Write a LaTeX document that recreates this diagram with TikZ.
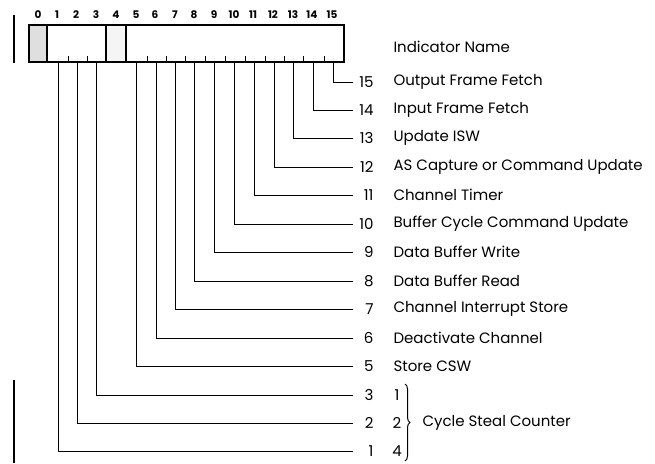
\documentclass[tikz,border=0pt]{standalone}
\usepackage{fontspec}
\setmainfont{Poppins}
\usetikzlibrary{decorations.pathreplacing}

\tikzset{
  lead/.style={line width=1pt},
  num/.style={anchor=east,inner sep=0pt,text width=20pt,align=right,font=\fontsize{15}{18}\selectfont},
  lbl/.style={anchor=west,inner sep=0pt,font=\fontsize{15}{18}\selectfont},
  bitno/.style={inner sep=0pt,font=\fontsize{10.5}{12}\selectfont\bfseries},
}

\begin{document}
\begin{tikzpicture}[x=1pt,y=-1pt,line width=1pt]
\path[use as bounding box] (0,0) rectangle (655,463);
% register
\fill[gray!25] (29,25) rectangle (47,62);
\fill[gray!8] (106,25) rectangle (126,62);
\draw[line width=1.4pt] (29,25) rectangle (344,62);
\draw[line width=1.4pt] (47,25) -- (47,62);
\draw[line width=1.4pt] (106,25) -- (106,62);
\draw[line width=1.4pt] (126,25) -- (126,62);
% ticks
\draw (68,62) -- (68,56);
\draw (87,62) -- (87,56);
\draw (147,62) -- (147,56);
\draw (166,62) -- (166,56);
\draw (185,62) -- (185,56);
\draw (205,62) -- (205,56);
\draw (225,62) -- (225,56);
\draw (245,62) -- (245,56);
\draw (265,62) -- (265,56);
\draw (284,62) -- (284,56);
\draw (303,62) -- (303,56);
\draw (324,62) -- (324,56);
% bit numbers
\node[bitno] (k0) at (38,15) {0};
\node[bitno] (k1) at (57,15) {1};
\node[bitno] (k2) at (76,15) {2};
\node[bitno] (k3) at (96,15) {3};
\node[bitno] (k4) at (116,15) {4};
\node[bitno] (k5) at (136,15) {5};
\node[bitno] (k6) at (155,15) {6};
\node[bitno] (k7) at (175,15) {7};
\node[bitno] (k8) at (194,15) {8};
\node[bitno] (k9) at (214,15) {9};
\node[bitno] (k10) at (234,15) {10};
\node[bitno] (k11) at (253,15) {11};
\node[bitno] (k12) at (273,15) {12};
\node[bitno] (k13) at (293,15) {13};
\node[bitno] (k14) at (312,15) {14};
\node[bitno] (k15) at (332,15) {15};
% change bars
\draw[line width=2pt] (14,15) -- (14,63);
\draw[line width=2pt] (14,380) -- (14,463);
% lead origins
\coordinate (b1) at (58,62);
\coordinate (b2) at (77,62);
\coordinate (b3) at (96,62);
\coordinate (b5) at (136,62);
\coordinate (b6) at (156,62);
\coordinate (b7) at (175,62);
\coordinate (b8) at (194,62);
\coordinate (b9) at (214,62);
\coordinate (b10) at (234,62);
\coordinate (b11) at (254,62);
\coordinate (b12) at (274,62);
\coordinate (b13) at (293,62);
\coordinate (b14) at (313,62);
\coordinate (b15) at (333,62);
% labels
\node[lbl] (head) at (393,47) {Indicator Name};
\node[num] (n15) at (374,82) {15};
\node[lbl] (t15) at (393,82) {Output Frame Fetch};
\node[num] (n14) at (374,110) {14};
\node[lbl] (t14) at (393,110) {Input Frame Fetch};
\node[num] (n13) at (374,138) {13};
\node[lbl] (t13) at (393,138) {Update ISW};
\node[num] (n12) at (374,167) {12};
\node[lbl] (t12) at (393,167) {AS Capture or Command Update};
\node[num] (n11) at (374,195) {11};
\node[lbl] (t11) at (393,195) {Channel Timer};
\node[num] (n10) at (374,224) {10};
\node[lbl] (t10) at (393,224) {Buffer Cycle Command Update};
\node[num] (n9) at (374,252) {9};
\node[lbl] (t9) at (393,252) {Data Buffer Write};
\node[num] (n8) at (374,281) {8};
\node[lbl] (t8) at (393,281) {Data Buffer Read};
\node[num] (n7) at (374,309) {7};
\node[lbl] (t7) at (393,309) {Channel Interrupt Store};
\node[num] (n6) at (374,338) {6};
\node[lbl] (t6) at (393,338) {Deactivate Channel};
\node[num] (n5) at (374,366) {5};
\node[lbl] (t5) at (393,366) {Store CSW};
\node[num] (n3) at (374,395) {3};
\node[num] (n2) at (374,423) {2};
\node[num] (n1) at (374,451) {1};
\node[lbl,anchor=center] (w1) at (397,395) {1};
\node[lbl,anchor=center] (w2) at (397,423) {2};
\node[lbl,anchor=center] (w4) at (397,451) {4};
\draw[decorate,decoration={brace,amplitude=5pt}] (405,384) -- (405,461);
\node[lbl] (csc) at (422,423) {Cycle Steal Counter};
% leads
\draw[lead] (b15) |- (n15.west);
\draw[lead] (b14) |- (n14.west);
\draw[lead] (b13) |- (n13.west);
\draw[lead] (b12) |- (n12.west);
\draw[lead] (b11) |- (n11.west);
\draw[lead] (b10) |- (n10.west);
\draw[lead] (b9) |- (n9.west);
\draw[lead] (b8) |- (n8.west);
\draw[lead] (b7) |- (n7.west);
\draw[lead] (b6) |- (n6.west);
\draw[lead] (b5) |- (n5.west);
\draw[lead] (b3) |- (n3.west);
\draw[lead] (b2) |- (n2.west);
\draw[lead] (b1) |- (n1.west);
\end{tikzpicture}
\end{document}
